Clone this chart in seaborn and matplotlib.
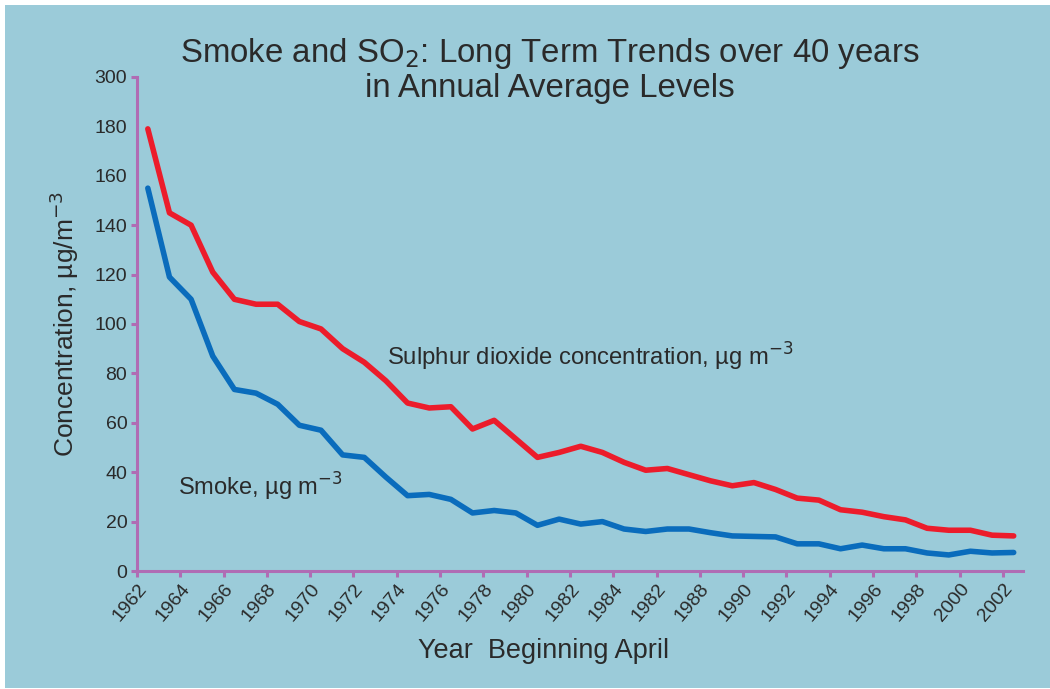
import matplotlib
matplotlib.use("Agg")
import matplotlib.pyplot as plt
import numpy as np
import pandas as pd
import seaborn as sns
from matplotlib.patches import Rectangle

# data (annual averages, year beginning April)
years = np.arange(1962, 2003)
so2 = [179, 145, 140, 121, 110, 108, 108, 101, 98, 90,
       84.5, 77, 68, 66, 66.5, 57.5, 61, 53.5, 46, 48,
       50.5, 48, 44, 40.8, 41.5, 39, 36.5, 34.5, 35.8, 33,
       29.5, 28.7, 24.8, 23.8, 22, 20.7, 17.3, 16.5, 16.5, 14.5,
       14.2]
smoke = [155, 119, 110, 87, 73.5, 72, 67.5, 59, 57, 47,
         46, 38, 30.5, 31, 29, 23.5, 24.5, 23.5, 18.5, 21,
         19, 20, 17, 16, 17, 17, 15.5, 14.2, 14, 13.8,
         11, 11, 9, 10.5, 9, 9, 7.3, 6.5, 8, 7.3,
         7.5]
xtick_years = list(range(1962, 2003, 2))
xtick_labels = [str(y) for y in xtick_years]
xtick_labels[12] = "1982"  # printed this way on the original
ytick_pos = list(range(0, 201, 20))
ytick_labels = [str(v) for v in range(0, 181, 20)] + ["300"]

BG = "#9BCBD9"
AXIS = "#B06CB4"
TEXT = "#2a2a2a"

df = pd.DataFrame({
    "year": np.concatenate([years + 0.5, years + 0.5]),
    "value": so2 + smoke,
    "series": ["so2"] * len(so2) + ["smoke"] * len(smoke),
})

sns.set_style("ticks")
plt.rcParams["font.family"] = ["Liberation Sans", "DejaVu Sans"]

fig = plt.figure(figsize=(10.5, 6.89), dpi=100, facecolor="white")
fig.patches.append(Rectangle((5 / 1050, 1 / 689), 1, 683 / 689, transform=fig.transFigure,
                             facecolor=BG, edgecolor="none", zorder=-10))
ax = fig.add_axes([137 / 1050, 1 - 571 / 689, 886 / 1050, 494 / 689])
ax.set_facecolor(BG)

sns.lineplot(data=df, x="year", y="value", hue="series",
             palette={"so2": "#EC1C2B", "smoke": "#0A6CBC"},
             linewidth=4, legend=False, ax=ax)

ax.set_xlim(1962, 2002.93)
ax.set_ylim(0, 200)
ax.set_xticks(xtick_years)
ax.set_xticklabels(xtick_labels, rotation=50, ha="right", rotation_mode="anchor",
                   fontsize=14, color=TEXT)
ax.set_yticks(ytick_pos)
ax.set_yticklabels(ytick_labels, fontsize=14, color=TEXT)
ax.tick_params(direction="out", length=4, width=2.2, color=AXIS, pad=3)
for t in ax.yaxis.get_major_ticks():
    if t.get_loc() in (160, 180):
        t.tick1line.set_visible(False)

for s in ("top", "right"):
    ax.spines[s].set_visible(False)
for s in ("left", "bottom"):
    ax.spines[s].set_color(AXIS)
    ax.spines[s].set_linewidth(2.2)

ax.set_xlabel("Year  Beginning April", fontsize=19.5, color=TEXT, labelpad=8)
ax.xaxis.set_label_coords(0.459, -0.135)
ax.set_ylabel("Concentration, µg/m$^{-3}$", fontsize=19, color=TEXT, labelpad=10)

ax.text(1973.55, 83, "Sulphur dioxide concentration, µg m$^{-3}$",
        fontsize=17.2, color=TEXT, va="baseline")
ax.text(1963.9, 34, "Smoke, µg m$^{-3}$", fontsize=17, color=TEXT, va="center")

fig.text(550 / 1050, 1 - 70 / 689,
         "Smoke and SO$_2$: Long Term Trends over 40 years\nin Annual Average Levels",
         ha="center", va="center", fontsize=23.8, color=TEXT, linespacing=1.12)

fig.savefig("out.png", dpi=100, facecolor="white")
